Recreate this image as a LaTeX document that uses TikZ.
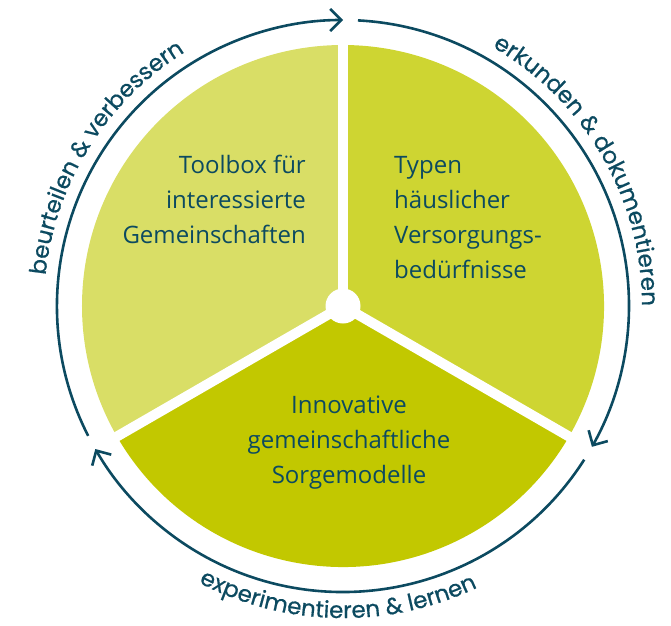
\documentclass[tikz,border=0pt]{standalone}
\usepackage{fontspec}
\setmainfont{Open Sans}
\newfontfamily\labelfont{Poppins}[FakeBold=0.6]
\usetikzlibrary{arrows.meta,decorations.text}
\definecolor{ringc}{HTML}{0C4A60}
\definecolor{secA}{HTML}{D9DE66}
\definecolor{secB}{HTML}{CED532}
\definecolor{secC}{HTML}{C2C800}
\begin{document}
\begin{tikzpicture}[x=1pt,y=1pt,
  looparrow/.style={draw=ringc, line width=2.6pt, -{Straight Barb[length=11pt,width=22pt]}},
  ringlabel/.style={decorate, decoration={text along path, text align=center,
      text color=ringc, text={|\labelfont\fontsize{23}{23}\selectfont|#1}}},
  inner/.style={text=ringc, inner sep=0pt, font=\fontsize{24}{35}\selectfont},
  divider/.style={white, line width=10pt}]
\useasboundingbox (-343,-319) rectangle (328,306);

% three sectors of the disc
\fill[secA] (0,0) -- (90:261) arc[start angle=90, end angle=210, radius=261] -- cycle;
\fill[secB] (0,0) -- (-30:261) arc[start angle=-30, end angle=90, radius=261] -- cycle;
\fill[secC] (0,0) -- (210:261) arc[start angle=210, end angle=330, radius=261] -- cycle;

% white gaps and hub
\draw[divider] (0,0) -- (90:266);
\draw[divider] (0,0) -- (210:266);
\draw[divider] (0,0) -- (330:266);
\fill[white] (0,0) circle (17.5);

% sector texts
\node[inner, align=right, anchor=north east] (toolbox) at (-37,151)
  {Toolbox für\\interessierte\\Gemeinschaften};
\node[inner, align=left, anchor=north west] (typen) at (51,150)
  {Typen\\häuslicher\\Versorgungs-\\bedürfnisse};
\node[inner, align=center, anchor=north] (modelle) at (6,-90)
  {Innovative\\gemeinschaftliche\\Sorgemodelle};

% cycle arrows around the disc
\draw[looparrow] (207:286) arc[start angle=207, end angle=90, radius=286];
\draw[looparrow] (87:286) arc[start angle=87, end angle=-29.5, radius=286];
\draw[looparrow] (-32.5:286) arc[start angle=-32.5, end angle=-150, radius=286];

% labels along the ring
\path[ringlabel={beurteilen {\&} verbessern}]
  (198:299) arc[start angle=198, end angle=98, radius=299];
\path[ringlabel={erkunden {\&} dokumentieren}]
  (80:299) arc[start angle=80, end angle=-20, radius=299];
\path[ringlabel={experimentieren {\&} lernen}]
  (199:312) arc[start angle=199, end angle=339, radius=312];
\end{tikzpicture}
\end{document}
